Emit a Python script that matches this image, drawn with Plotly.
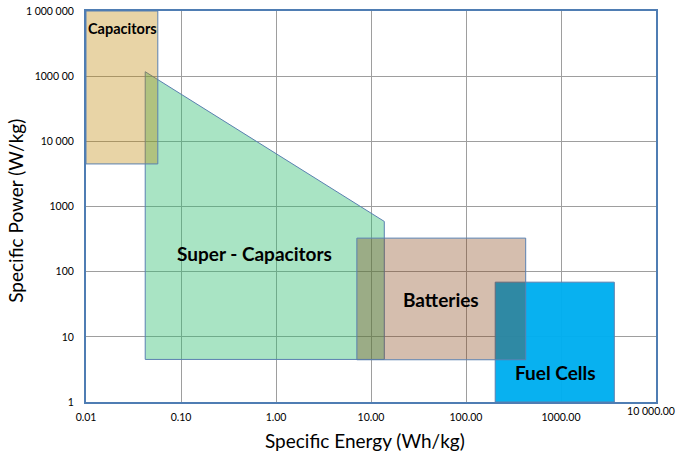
import math
import plotly.graph_objects as go

# ---- data (Ragone plot regions) ----
supercap_energy = [0.042, 13.8, 13.8, 0.042, 0.042]
supercap_power = [117000, 590, 4.5, 4.5, 117000]

fuelcell_energy = [203, 3640, 3640, 203, 203]
fuelcell_power = [1, 1, 69, 69, 1]

battery_energy = [7.1, 425, 425, 7.1, 7.1]
battery_power = [4.45, 4.45, 327, 327, 4.45]

capacitor_energy = [0.01, 0.057, 0.057, 0.01, 0.01]
capacitor_power = [4500, 4500, 1000000, 1000000, 4500]

x_tickvals = [0.01, 0.1, 1, 10, 100, 1000, 10000]
x_ticktext = ["0.01", "0.10", "1.00", "10.00", "100.00", "1000.00", "10 000.00"]
y_tickvals = [1, 10, 100, 1000, 10000, 100000, 1000000]
y_ticktext = ["1", "10", "100", "1000", "10 000", "1000 00", "1 000 000"]

labels = ["Capacitors", "Super - Capacitors", "Batteries", "Fuel Cells"]
label_energy = [0.024, 0.60, 54.6, 885]
label_power = [548000, 187, 36.9, 2.8]
label_sizes = [14.5, 19, 19, 19]

# ---- figure ----
fig = go.Figure()
edge = "#5A80B0"
regions = [
    ("Super - Capacitors", supercap_energy, supercap_power, "rgba(50,190,115,0.42)"),
    ("Fuel Cells", fuelcell_energy, fuelcell_power, "rgba(0,174,240,0.97)"),
    ("Batteries", battery_energy, battery_power, "rgba(127,58,9,0.33)"),
    ("Capacitors", capacitor_energy, capacitor_power, "rgba(189,132,0,0.35)"),
]
for name, xs, ys, fc in regions:
    fig.add_trace(go.Scatter(
        x=xs, y=ys, mode="lines", fill="toself", fillcolor=fc,
        line=dict(color=edge, width=1), name=name, hoverinfo="skip",
        showlegend=False,
    ))

for txt, ex, py, sz in zip(labels, label_energy, label_power, label_sizes):
    fig.add_annotation(
        x=math.log10(ex), y=math.log10(py), xref="x", yref="y", text=f"<b>{txt}</b>",
        showarrow=False, font=dict(family="Lato", size=sz, color="black"),
    )

# axis titles
fig.add_annotation(
    x=0.49, y=-0.098, xref="paper", yref="paper", xanchor="center", yanchor="middle",
    text="Specific Energy (Wh/kg)", showarrow=False,
    font=dict(family="Lato", size=19, color="black"),
)
fig.add_annotation(
    x=-0.124, y=0.49, xref="paper", yref="paper", xanchor="center", yanchor="middle",
    text="Specific Power (W/kg)", showarrow=False, textangle=-90,
    font=dict(family="Lato", size=19, color="black"),
)

tickfont = dict(family="Lato", size=10.5, color="black")
axis_common = dict(
    type="log", showgrid=True, gridcolor="#9E9E9E", gridwidth=1,
    showline=True, linecolor="#4F7DB3", linewidth=2, mirror=True,
    ticks="", zeroline=False, automargin=False, ticklabeloverflow="allow",
    tickfont=tickfont,
)
# main x axis: all ticks/grid, but last label is drawn by an overlay axis
# (shifted left slightly so it fits at the window edge, as in the reference)
fig.update_xaxes(
    range=[-2, 4], tickvals=x_tickvals, ticktext=x_ticktext[:-1] + [""],
    ticklabelstandoff=4, **axis_common,
)
fig.update_yaxes(
    range=[0, 6], tickvals=y_tickvals, ticktext=y_ticktext,
    ticklabelstandoff=8, **axis_common,
)
fig.update_layout(
    xaxis2=dict(
        type="log", range=[-2, 4], overlaying="x", side="bottom", anchor="y",
        tickvals=x_tickvals[-1:], ticktext=x_ticktext[-1:],
        showgrid=False, showline=False, zeroline=False, ticks="",
        ticklabelshift=-5, ticklabelstandoff=1, automargin=False,
        ticklabeloverflow="allow", tickfont=tickfont,
    ),
    width=676, height=455,
    margin=dict(l=86, r=20, t=11, b=53),
    plot_bgcolor="white", paper_bgcolor="white",
    showlegend=False,
)
# invisible helper so the overlay axis is rendered
fig.add_trace(go.Scatter(
    x=x_tickvals[-1:], y=y_tickvals[:1], xaxis="x2", yaxis="y", mode="markers",
    marker=dict(opacity=0), hoverinfo="skip", showlegend=False,
))
# remove the page's default body margin so the figure fills the 676x455 window exactly
fig.write_html(
    "out.html",
    config={"displayModeBar": False},
    post_script="document.body.style.margin='0';document.body.style.overflow='hidden';",
)
